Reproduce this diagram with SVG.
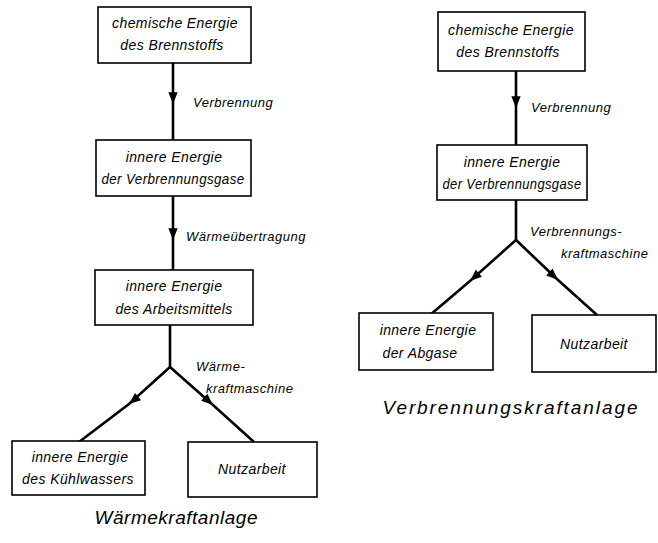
<svg xmlns="http://www.w3.org/2000/svg" width="658" height="543" viewBox="0 0 658 543">
<style>
  .box rect { fill: #fff; stroke: #000; stroke-width: 1.6; }
  .box text, .lbl { font-family: "Liberation Sans", Arial, sans-serif; font-style: italic; font-size: 14px; letter-spacing: 0.4px; fill: #000; }
  .box text { text-anchor: middle; }
  .lbl { font-size: 13px; letter-spacing: 0.5px; }
  .title { font-family: "Liberation Sans", Arial, sans-serif; font-style: italic; font-size: 19px; text-anchor: middle; }
  .conn path { fill: none; stroke: #000; stroke-width: 2.6; }
</style>
<defs>
  <marker id="arr" viewBox="0 0 10 10" refX="10" refY="5" markerWidth="5" markerHeight="4.5" orient="auto" markerUnits="strokeWidth">
    <path d="M0 1 L10 5 L0 9 Z" fill="#000"/>
  </marker>
</defs>
<rect width="658" height="543" fill="#fff"/>

<g id="connectors" class="conn">
  <path d="M173 63 L173 104 L173 140" marker-mid="url(#arr)"/>
  <path d="M173 196 L173 240 L173 270" marker-mid="url(#arr)"/>
  <path d="M170 325 L170 367"/>
  <path d="M170 367 L129 404 L79 442" marker-mid="url(#arr)"/>
  <path d="M170 367 L213 405 L254 442" marker-mid="url(#arr)"/>
  <path d="M516 71 L516 108 L516 145" marker-mid="url(#arr)"/>
  <path d="M516 200 L516 240"/>
  <path d="M516 240 L470 281 L430 315" marker-mid="url(#arr)"/>
  <path d="M516 240 L558 280 L597 315" marker-mid="url(#arr)"/>
</g>

<g id="labels">
  <text class="lbl" x="193" y="107">Verbrennung</text>
  <text class="lbl" x="186" y="241">Wärmeübertragung</text>
  <text class="lbl" x="196" y="371">Wärme-</text>
  <text class="lbl" x="206" y="393">kraftmaschine</text>
  <text class="lbl" x="531" y="112">Verbrennung</text>
  <text class="lbl" x="530" y="236">Verbrennungs-</text>
  <text class="lbl" x="561" y="258">kraftmaschine</text>
</g>

<g id="L1" class="box">
  <rect x="98" y="7" width="153" height="56"/>
  <text x="175" y="28">chemische Energie</text>
  <text x="172" y="50">des Brennstoffs</text>
</g>
<g id="L2" class="box">
  <rect x="96" y="140" width="155" height="56"/>
  <text x="174" y="162">innere Energie</text>
  <text x="173" y="184" textLength="143" lengthAdjust="spacingAndGlyphs">der Verbrennungsgase</text>
</g>
<g id="L3" class="box">
  <rect x="95" y="270" width="158" height="55"/>
  <text x="174" y="291">innere Energie</text>
  <text x="174" y="314">des Arbeitsmittels</text>
</g>
<g id="L4" class="box">
  <rect x="12" y="441" width="133" height="54"/>
  <text x="80" y="462">innere Energie</text>
  <text x="78" y="484">des Kühlwassers</text>
</g>
<g id="L5" class="box">
  <rect x="188" y="442" width="129" height="55"/>
  <text x="252" y="474">Nutzarbeit</text>
</g>
<text class="title" x="176" y="524" textLength="163" lengthAdjust="spacing">Wärmekraftanlage</text>

<g id="R1" class="box">
  <rect x="438" y="12" width="147" height="59"/>
  <text x="511" y="35">chemische Energie</text>
  <text x="508" y="57">des Brennstoffs</text>
</g>
<g id="R2" class="box">
  <rect x="437" y="145" width="150" height="55"/>
  <text x="512" y="167">innere Energie</text>
  <text x="512" y="189" textLength="139" lengthAdjust="spacingAndGlyphs">der Verbrennungsgase</text>
</g>
<g id="R3" class="box">
  <rect x="359" y="313" width="134" height="57"/>
  <text x="428" y="335">innere Energie</text>
  <text x="420" y="358">der Abgase</text>
</g>
<g id="R4" class="box">
  <rect x="532" y="315" width="124" height="57"/>
  <text x="594" y="349">Nutzarbeit</text>
</g>
<text class="title" x="510" y="414" textLength="255" lengthAdjust="spacing">Verbrennungskraftanlage</text>
</svg>
